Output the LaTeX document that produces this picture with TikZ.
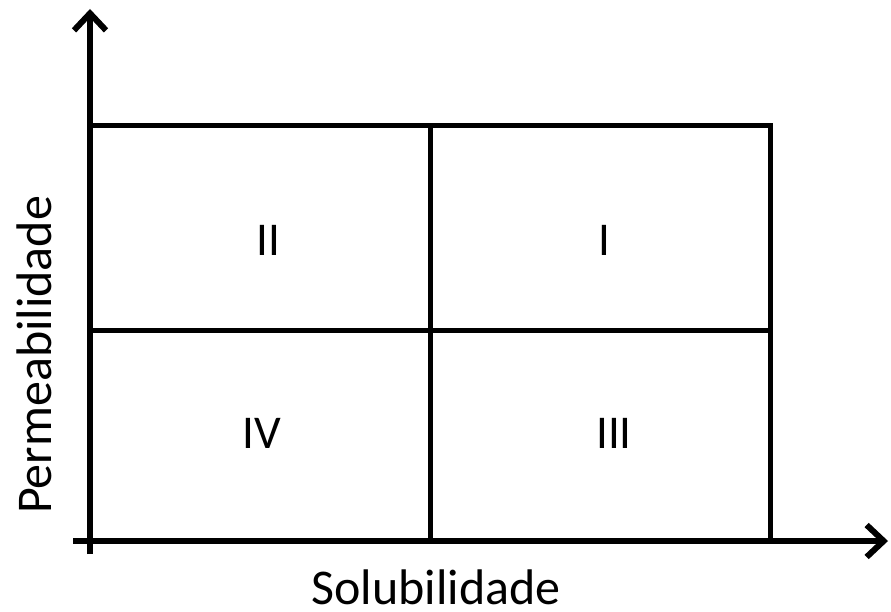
\documentclass[tikz,border=0pt]{standalone}
\usepackage{fontspec}
\setmainfont{Carlito}
\usepackage{tikz}
\usetikzlibrary{arrows.meta, positioning}

\begin{document}
\begin{tikzpicture}[x=1pt, y=-1pt,
    axis/.style={line width=6pt, -{Straight Barb[length=17pt, width=32pt, line width=6pt]}},
    grid line/.style={line width=5.5pt, line join=miter},
    class/.style={font=\fontsize{47}{50}\selectfont, inner sep=0pt},
    axis label/.style={font=\fontsize{50}{55}\selectfont, inner sep=0pt}]
  \useasboundingbox (0,0) rectangle (891,612);

  % Corners of the classification box
  \coordinate (O) at (90,541);
  \coordinate (TL) at (90,125.5);
  \coordinate (TR) at (770.5,125.5);
  \coordinate (BR) at (770.5,541);
  \coordinate (MT) at (430.5,125.5);
  \coordinate (MB) at (430.5,541);
  \coordinate (ML) at (90,330.5);
  \coordinate (MR) at (770.5,330.5);

  % Axes
  \coordinate (ystart) at (90,554);
  \coordinate (yend) at (90,9);
  \coordinate (xstart) at (73,541);
  \coordinate (xend) at (888,541);
  \draw[axis] (ystart) -- (yend);
  \draw[axis] (xstart) -- (xend);

  % Box and dividing lines
  \draw[grid line] (TL) -- (TR) -- (BR);
  \draw[grid line] (MT) -- (MB);
  \draw[grid line] (ML) -- (MR);

  % Classes
  \node[class] (c2) at (268,240) {II};
  \node[class] (c1) at (604,240) {I};
  \node[class] (c4) at (262,433) {IV};
  \node[class] (c3) at (614,433) {III};

  % Axis labels
  \node[axis label] (xlab) at (436,587) {Solubilidade};
  \node[axis label, rotate=90] (ylab) at (34,355) {Permeabilidade};
\end{tikzpicture}
\end{document}
